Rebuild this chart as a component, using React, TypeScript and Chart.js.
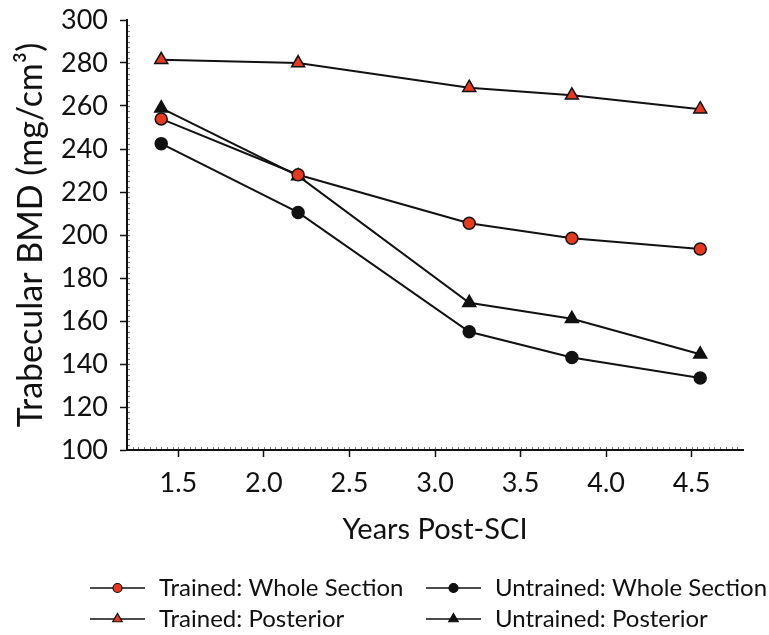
import React, { useEffect, useRef } from "react";
import { Chart, registerables } from "chart.js";

Chart.register(...registerables);

// ---- data ----
const years = [1.4, 2.2, 3.2, 3.8, 4.55];
const trainedWhole = [254, 228, 205.5, 198.5, 193.5];
const untrainedWhole = [242.5, 210.5, 155, 143, 133.5];
const trainedPosterior = [281.5, 280, 268.5, 265, 258.5];
const untrainedPosterior = [259, 227.5, 168.5, 161, 144.5];
const seriesLabels = [
  "Trained: Whole Section",
  "Untrained: Whole Section",
  "Trained: Posterior",
  "Untrained: Posterior",
];
const xTickValues = [1.5, 2.0, 2.5, 3.0, 3.5, 4.0, 4.5];
const xMin = 1.2;
const xMax = 4.8;
const yMin = 100;
const yMax = 300;
const yStep = 20;
const xMinorStep = 1 / 30;
const yMinorStep = 2.5;
const xTitle = "Years Post-SCI";
const yTitle = "Trabecular BMD (mg/cm³)";

const FONT = "Lato, 'Open Sans', sans-serif";
const RED = "#e8391f";
const BLACK = "#111111";

const toPoints = (ys: number[]) => ys.map((y, i) => ({ x: years[i], y }));

const minorTicks = {
  id: "minorTicks",
  beforeDatasetsDraw(chart: any) {
    const ctx = chart.ctx as CanvasRenderingContext2D;
    const xs = chart.scales.x;
    const ys = chart.scales.y;
    const area = chart.chartArea;
    ctx.save();
    ctx.strokeStyle = "#777";
    ctx.lineWidth = 1;
    ctx.beginPath();
    const nX = Math.round((xMax - xMin) / xMinorStep);
    for (let i = 1; i < nX; i++) {
      const px = Math.round(xs.getPixelForValue(xMin + i * xMinorStep)) + 0.5;
      ctx.moveTo(px, area.bottom - 1);
      ctx.lineTo(px, area.bottom - 3);
    }
    const nY = Math.round((yMax - yMin) / yMinorStep);
    for (let i = 1; i < nY; i++) {
      const py = Math.round(ys.getPixelForValue(yMin + i * yMinorStep)) + 0.5;
      ctx.moveTo(area.left + 1, py);
      ctx.lineTo(area.left + 3, py);
    }
    ctx.stroke();
    ctx.restore();
  },
};

const gridLegend = {
  id: "gridLegend",
  afterDraw(chart: any) {
    const ctx = chart.ctx as CanvasRenderingContext2D;
    const colX = [90, 426];
    const rowY = [588, 619];
    const lineLen = 55;
    ctx.save();
    chart.data.datasets.forEach((ds: any, i: number) => {
      const x0 = colX[i % 2];
      const y0 = rowY[Math.floor(i / 2)];
      ctx.strokeStyle = BLACK;
      ctx.lineWidth = 1.5;
      ctx.beginPath();
      ctx.moveTo(x0, y0);
      ctx.lineTo(x0 + lineLen, y0);
      ctx.stroke();
      const cx = x0 + lineLen / 2;
      ctx.fillStyle = ds.pointBackgroundColor;
      ctx.lineWidth = 1.2;
      ctx.beginPath();
      if (ds.pointStyle === "triangle") {
        const r = 5.5;
        let rad = 0;
        ctx.moveTo(cx + Math.sin(rad) * r, y0 - Math.cos(rad) * r);
        rad += (2 * Math.PI) / 3;
        ctx.lineTo(cx + Math.sin(rad) * r, y0 - Math.cos(rad) * r);
        rad += (2 * Math.PI) / 3;
        ctx.lineTo(cx + Math.sin(rad) * r, y0 - Math.cos(rad) * r);
        ctx.closePath();
      } else {
        ctx.arc(cx, y0, 4.5, 0, Math.PI * 2);
      }
      ctx.fill();
      ctx.stroke();
      ctx.fillStyle = BLACK;
      ctx.font = `24px ${FONT}`;
      ctx.textAlign = "left";
      ctx.textBaseline = "middle";
      ctx.fillText(ds.label, x0 + lineLen + 14, y0);
    });
    ctx.restore();
  },
};

export default function App() {
  const ref = useRef<HTMLCanvasElement | null>(null);

  useEffect(() => {
    if (!ref.current) return;
    const mk = (label: string, ys: number[], fill: string, style: string, r: number) => ({
      label,
      data: toPoints(ys),
      borderColor: BLACK,
      borderWidth: 2,
      pointBackgroundColor: fill,
      pointBorderColor: BLACK,
      pointBorderWidth: 1.5,
      pointStyle: style,
      pointRadius: r,
      pointHoverRadius: r,
      tension: 0,
      fill: false,
    });
    const chart = new Chart(ref.current, {
      type: "line",
      data: {
        datasets: [
          mk(seriesLabels[0], trainedWhole, RED, "circle", 6),
          mk(seriesLabels[1], untrainedWhole, BLACK, "circle", 6),
          mk(seriesLabels[2], trainedPosterior, RED, "triangle", 7.5),
          mk(seriesLabels[3], untrainedPosterior, BLACK, "triangle", 7.5),
        ] as any,
      },
      options: {
        animation: false,
        responsive: false,
        events: [],
        layout: { padding: { left: 0, right: 26, top: 20, bottom: 85 } },
        plugins: { legend: { display: false }, tooltip: { enabled: false } },
        scales: {
          x: {
            type: "linear",
            min: xMin,
            max: xMax,
            afterBuildTicks: (scale: any) => {
              scale.ticks = xTickValues.map((v) => ({ value: v }));
            },
            afterFit: (scale: any) => {
              scale.height = 100;
              scale.paddingLeft = 0;
              scale.paddingRight = 0;
            },
            grid: {
              drawOnChartArea: false,
              drawTicks: true,
              tickLength: 7,
              tickWidth: 1.5,
              color: BLACK,
            },
            border: { display: true, color: BLACK, width: 2 },
            ticks: {
              color: BLACK,
              font: { family: FONT, size: 27 },
              padding: 10,
              maxRotation: 0,
              callback: (v: any) => Number(v).toFixed(1),
            },
            title: {
              display: true,
              text: xTitle,
              color: BLACK,
              font: { family: FONT, size: 29 },
              padding: { top: 10, bottom: 3 },
            },
          },
          y: {
            type: "linear",
            min: yMin,
            max: yMax,
            afterFit: (scale: any) => {
              scale.width = 127;
              scale.paddingTop = 0;
              scale.paddingBottom = 0;
            },
            grid: {
              drawOnChartArea: false,
              drawTicks: true,
              tickLength: 7,
              tickWidth: 1.5,
              color: BLACK,
            },
            border: { display: true, color: BLACK, width: 2 },
            ticks: {
              stepSize: yStep,
              color: BLACK,
              font: { family: FONT, size: 27 },
              padding: 12,
            },
            title: {
              display: true,
              text: yTitle,
              color: BLACK,
              font: { family: FONT, size: 34 },
              padding: { top: 11, bottom: 0 },
            },
          },
        },
      } as any,
      plugins: [minorTicks, gridLegend],
    });
    return () => chart.destroy();
  }, []);

  return (
    <div style={{ position: "absolute", left: 0, top: 0, width: 769, height: 635, background: "#fff" }}>
      <canvas ref={ref} width={769} height={635} style={{ display: "block" }} />
    </div>
  );
}
